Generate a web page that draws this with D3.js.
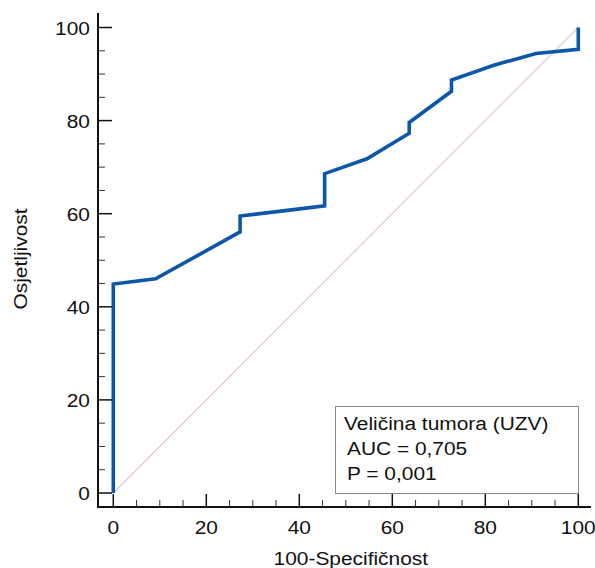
<!DOCTYPE html>
<html><head><meta charset="utf-8">
<script src="https://cdn.jsdelivr.net/npm/d3@7/dist/d3.min.js"></script>
<style>
body{margin:0;background:#fff;}
text{font-family:"Liberation Sans",Arial,sans-serif;fill:#111;font-size:19px;}
</style></head>
<body><svg id="c" width="595" height="568"></svg>
<script>
const specX = [0, 0, 9.09, 27.27, 27.27, 45.45, 45.45, 54.55, 63.64, 63.64, 72.73, 72.73, 81.82, 90.91, 100, 100];
const sensY = [0, 44.9, 46.0, 56.1, 59.5, 61.7, 68.6, 71.8, 77.3, 79.6, 86.3, 88.7, 91.9, 94.4, 95.3, 100];
const majorTicks = [0, 20, 40, 60, 80, 100];
const minorTicks = d3.range(0, 101, 5).filter(v => v % 20 !== 0);
const xTitle = "100-Specifičnost";
const yTitle = "Osjetljivost";
const legendLines = ["Veličina tumora (UZV)", "AUC = 0,705", "P = 0,001"];

const SX = 1.1; // horizontal text stretch
const svg = d3.select("#c");
const x = d3.scaleLinear().domain([0, 100]).range([113.3, 578.3]);
const y = d3.scaleLinear().domain([0, 100]).range([493, 27.5]);
const axX = 98, axY = 507;

function label(sel, tx, ty, anchor, rot) {
  return sel.attr("transform", (d, i) => {
    const px = typeof tx === "function" ? tx(d, i) : tx;
    const py = typeof ty === "function" ? ty(d, i) : ty;
    return `translate(${px},${py})` + (rot ? ` rotate(${rot})` : "") + ` scale(${SX},1)`;
  }).attr("text-anchor", anchor);
}

// diagonal reference
svg.append("line").attr("x1", x(0)).attr("y1", y(0)).attr("x2", x(100)).attr("y2", y(100))
  .attr("stroke", "#e2c9cc").attr("stroke-width", 1.2);

// ROC curve
const pts = specX.map((v, i) => [v, sensY[i]]);
svg.append("path").datum(pts)
  .attr("d", d3.line().x(d => x(d[0])).y(d => y(d[1])))
  .attr("fill", "none").attr("stroke", "#0d57a8").attr("stroke-width", 3.6)
  .attr("stroke-linejoin", "miter");

// axes lines
svg.append("line").attr("x1", axX).attr("x2", axX).attr("y1", 13).attr("y2", axY + 1)
  .attr("stroke", "#111").attr("stroke-width", 2);
svg.append("line").attr("x1", axX - 1).attr("x2", 591).attr("y1", axY).attr("y2", axY)
  .attr("stroke", "#111").attr("stroke-width", 2);

// y ticks
svg.selectAll(".ymaj").data(majorTicks).enter().append("line")
  .attr("x1", axX).attr("x2", axX + 14).attr("y1", d => y(d)).attr("y2", d => y(d))
  .attr("stroke", "#111").attr("stroke-width", 1.5);
svg.selectAll(".ymin").data(minorTicks).enter().append("line")
  .attr("x1", axX).attr("x2", axX + 7).attr("y1", d => y(d)).attr("y2", d => y(d))
  .attr("stroke", "#333").attr("stroke-width", 1);
label(svg.selectAll(".ylab").data(majorTicks).enter().append("text"), 90, d => y(d) + 7, "end")
  .text(d => d);

// x ticks
svg.selectAll(".xmaj").data(majorTicks).enter().append("line")
  .attr("x1", d => x(d)).attr("x2", d => x(d)).attr("y1", axY).attr("y2", axY - 13)
  .attr("stroke", "#111").attr("stroke-width", 1.5);
svg.selectAll(".xmin").data(minorTicks).enter().append("line")
  .attr("x1", d => x(d)).attr("x2", d => x(d)).attr("y1", axY).attr("y2", axY - 7)
  .attr("stroke", "#333").attr("stroke-width", 1);
label(svg.selectAll(".xlab").data(majorTicks).enter().append("text"), d => x(d), 534, "middle")
  .text(d => d);

// titles
label(svg.append("text"), 350.8, 565, "middle").text(xTitle);
label(svg.append("text"), 27, 259, "middle", -90).text(yTitle);

// legend
svg.append("rect").attr("x", 335.5).attr("y", 406.5).attr("width", 243).attr("height", 87)
  .attr("fill", "#fff").attr("stroke", "#8a8a8a").attr("stroke-width", 1);
label(svg.selectAll(".leg").data(legendLines).enter().append("text"),
  (d, i) => i === 0 ? 344 : 347, (d, i) => 430 + i * 25, "start").text(d => d);
</script></body></html>
